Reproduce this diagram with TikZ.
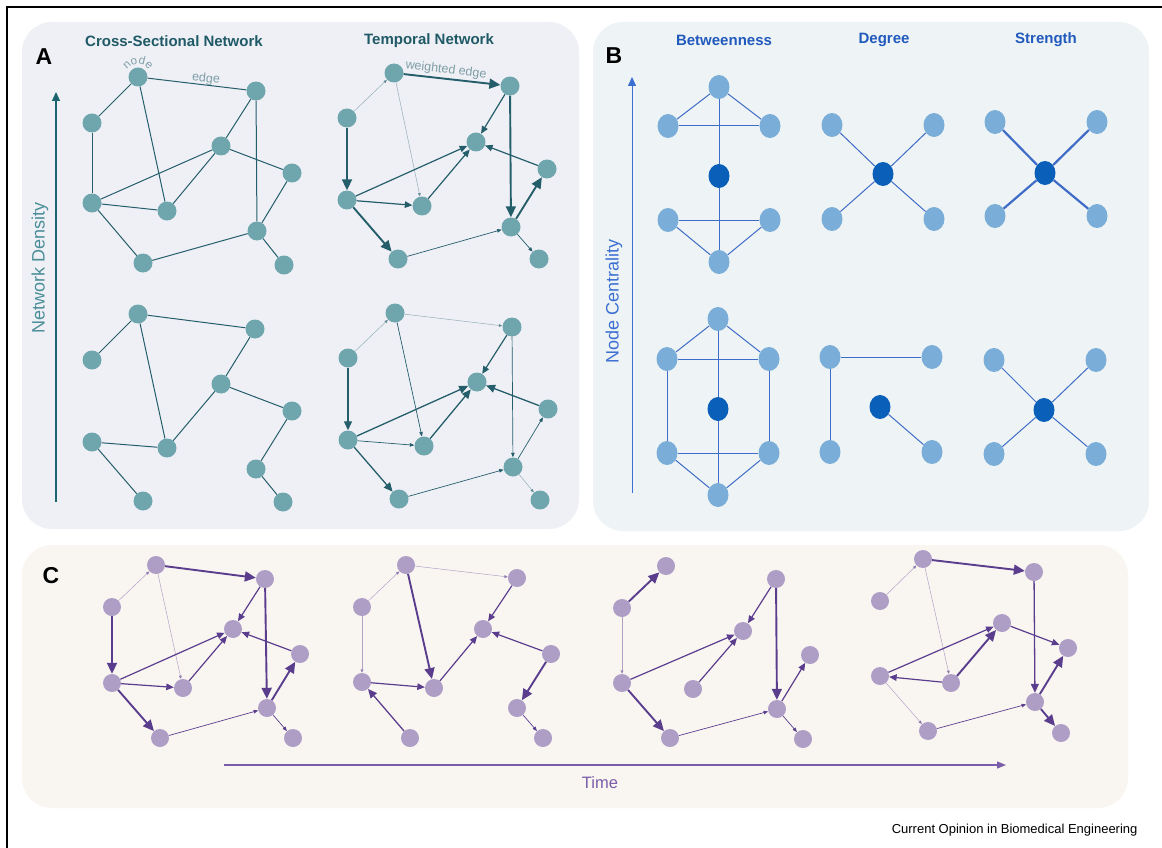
\documentclass[tikz,border=0pt]{standalone}
\usepackage{fontspec}
\setmainfont{Liberation Sans}
\usetikzlibrary{arrows.meta,decorations.text,shapes.geometric}
\definecolor{panelA}{HTML}{EFF0F6}
\definecolor{panelB}{HTML}{EEF4F5}
\definecolor{panelC}{HTML}{F9F6F2}
\definecolor{aNode}{HTML}{6FA6AD}
\definecolor{aEdge}{HTML}{245E6B}
\definecolor{aTitle}{HTML}{1F5A66}
\definecolor{aLbl}{HTML}{7E9EA6}
\definecolor{aAxis}{HTML}{4A8E98}
\definecolor{aAxisLine}{HTML}{1E6470}
\definecolor{bNode}{HTML}{7AAED8}
\definecolor{bDark}{HTML}{0A5FB8}
\definecolor{bEdge}{HTML}{3F6CC6}
\definecolor{bTitle}{HTML}{2159BD}
\definecolor{bAxis}{HTML}{3C6FD2}
\definecolor{cNode}{HTML}{AE9EC6}
\definecolor{cEdge}{HTML}{5B3D8E}
\definecolor{cAxis}{HTML}{7A5CA8}
\begin{document}
\begin{tikzpicture}[x=1pt,y=-1pt,
 aN/.style={circle,fill=aNode,minimum size=19pt,inner sep=0pt},
 cN/.style={circle,fill=cNode,minimum size=18pt,inner sep=0pt},
 bN/.style={ellipse,fill=bNode,minimum width=21pt,minimum height=24pt,inner sep=0pt},
 bC/.style={bN,fill=bDark},
 plainLine/.style={line width=1pt},
 bLine/.style={line width=1pt},
 bThick/.style={line width=2.2pt},
 wBig/.style={line width=1.9pt,-{Triangle[length=11pt,width=10pt]}},
 wMedBig/.style={line width=1.3pt,-{Triangle[length=9pt,width=8pt]}},
 wMed/.style={line width=1.2pt,-{Triangle[length=7.5pt,width=6.5pt]}},
 wThin/.style={line width=0.7pt,-{Triangle[length=4.5pt,width=3.5pt]}},
 wFaint/.style={line width=0.5pt,draw opacity=0.45,fill opacity=0.6,-{Triangle[length=3.5pt,width=3pt]}},
 title/.style={font=\fontsize{15}{18}\selectfont\bfseries},
 panelLetter/.style={font=\fontsize{23}{26}\selectfont\bfseries,text=black},
 axisText/.style={font=\fontsize{18}{20}\selectfont,rotate=90},
 axisArrow/.style={line width=1.1pt,-{Triangle[length=9pt,width=8pt]}},
 smallLbl/.style={font=\fontsize{12.5}{14}\selectfont,text=aLbl}
]
\useasboundingbox (0,0) rectangle (1162,848);
\fill[white] (0,0) rectangle (1162,848);
\draw[line width=2pt] (7,848) -- (7,7) -- (1162,7);

% panels
\fill[panelA,rounded corners=30pt] (22,22) rectangle (579,529);
\fill[panelB,rounded corners=30pt] (593,22) rectangle (1149,531);
\fill[panelC,rounded corners=30pt] (22,545) rectangle (1128,808);

% ---------------- Panel A ----------------
\node[panelLetter] (LA) at (44,57) {A};
\node[title,text=aTitle] (TA1) at (174,41) {Cross-Sectional Network};
\node[title,text=aTitle] (TA2) at (429,41) {Temporal Network};
\coordinate (axA0) at (56,502);
\coordinate (axA1) at (56,92);
\draw[axisArrow,aAxisLine] (axA0) -- (axA1);
\node[axisText,text=aAxis] (axAt) at (40,268) {Network Density};

\begin{scope}[color=aEdge]
% cross-sectional top
\node[aN] (n1) at (138,77) {};
\node[aN] (n2) at (256,91) {};
\node[aN] (n3) at (92,123) {};
\node[aN] (n4) at (221,146) {};
\node[aN] (n5) at (292,173) {};
\node[aN] (n6) at (92,203) {};
\node[aN] (n7) at (167,211) {};
\node[aN] (n8) at (257,231) {};
\node[aN] (n9) at (143,263) {};
\node[aN] (n10) at (284,265) {};
\draw[plainLine] (n1) -- (n3);
\draw[plainLine] (n1) -- (n2);
\draw[plainLine] (n1) -- (n7);
\draw[plainLine] (n3) -- (n6);
\draw[plainLine] (n6) -- (n4);
\draw[plainLine] (n6) -- (n7);
\draw[plainLine] (n7) -- (n4);
\draw[plainLine] (n2) -- (n4);
\draw[plainLine] (n2) -- (n8);
\draw[plainLine] (n4) -- (n5);
\draw[plainLine] (n5) -- (n8);
\draw[plainLine] (n6) -- (n9);
\draw[plainLine] (n9) -- (n8);
\draw[plainLine] (n8) -- (n10);

% temporal top
\node[aN] (t1) at (394,73) {};
\node[aN] (t2) at (510,86) {};
\node[aN] (t3) at (347,118) {};
\node[aN] (t4) at (476,142) {};
\node[aN] (t5) at (547,169) {};
\node[aN] (t6) at (347,200) {};
\node[aN] (t7) at (422,206) {};
\node[aN] (t8) at (511,227) {};
\node[aN] (t9) at (398,259) {};
\node[aN] (t10) at (539,259) {};
\draw[wFaint] (t3) -- (t1);
\draw[wBig] (t1) -- (t2);
\draw[wFaint] (t1) -- (t7);
\draw[wMed] (t2) -- (t4);
\draw[wBig] (t2) -- (t8);
\draw[wBig] (t3) -- (t6);
\draw[wMed] (t6) -- (t4);
\draw[wMed] (t6) -- (t7);
\draw[wMed] (t7) -- (t4);
\draw[wMed] (t5) -- (t4);
\draw[wBig] (t8) -- (t5);
\draw[wBig] (t6) -- (t9);
\draw[wThin] (t9) -- (t8);
\draw[wThin] (t8) -- (t10);

% cross-sectional bottom
\node[aN] (b1) at (138,314) {};
\node[aN] (b2) at (255,329) {};
\node[aN] (b3) at (92,360) {};
\node[aN] (b4) at (221,384) {};
\node[aN] (b5) at (292,411) {};
\node[aN] (b6) at (92,442) {};
\node[aN] (b7) at (167,448) {};
\node[aN] (b8) at (256,469) {};
\node[aN] (b9) at (143,501) {};
\node[aN] (b10) at (283,502) {};
\draw[plainLine] (b1) -- (b3);
\draw[plainLine] (b1) -- (b2);
\draw[plainLine] (b1) -- (b7);
\draw[plainLine] (b2) -- (b4);
\draw[plainLine] (b4) -- (b7);
\draw[plainLine] (b4) -- (b5);
\draw[plainLine] (b5) -- (b8);
\draw[plainLine] (b8) -- (b10);
\draw[plainLine] (b6) -- (b7);
\draw[plainLine] (b6) -- (b9);

% temporal bottom
\node[aN] (u1) at (395,313) {};
\node[aN] (u2) at (512,327) {};
\node[aN] (u3) at (348,358) {};
\node[aN] (u4) at (477,382) {};
\node[aN] (u5) at (548,409) {};
\node[aN] (u6) at (348,440) {};
\node[aN] (u7) at (424,446) {};
\node[aN] (u8) at (513,467) {};
\node[aN] (u9) at (399,499) {};
\node[aN] (u10) at (540,500) {};
\draw[wFaint] (u3) -- (u1);
\draw[wFaint] (u1) -- (u2);
\draw[wThin] (u1) -- (u7);
\draw[wMed] (u2) -- (u4);
\draw[wThin] (u2) -- (u8);
\draw[wMedBig] (u3) -- (u6);
\draw[wMedBig] (u6) -- (u4);
\draw[wThin] (u6) -- (u7);
\draw[wMedBig] (u7) -- (u4);
\draw[wMedBig] (u5) -- (u4);
\draw[wThin] (u8) -- (u5);
\draw[wMedBig] (u6) -- (u9);
\draw[wThin] (u9) -- (u8);
\draw[wFaint] (u8) -- (u10);
\end{scope}

% labels on A
\path[decorate,decoration={text along path,text align=center,
  text={|\fontsize{11.5}{12}\selectfont\color{aLbl}|node}}]
  (n1) ++(-165:13) arc[start angle=-165,end angle=-15,radius=13];
\node[smallLbl,rotate=-6] (lblEdge) at (206,79) {edge};
\node[smallLbl,rotate=-7] (lblW) at (446,70) {weighted edge};

% ---------------- Panel B ----------------
\node[panelLetter] (LB) at (614,56) {B};
\node[title,text=bTitle] (TB1) at (724,40) {Betweenness};
\node[title,text=bTitle] (TB2) at (884,40) {Degree};
\node[title,text=bTitle] (TB3) at (1046,40) {Strength};
\coordinate (axB0) at (632,493);
\coordinate (axB1) at (632,77);
\draw[axisArrow,bAxis,line width=1pt] (axB0) -- (axB1);
\node[axisText,text=bAxis] (axBt) at (614,301) {Node Centrality};

\begin{scope}[color=bEdge]
% betweenness top
\node[bN] (bt1) at (719,87) {};
\node[bN] (bt2) at (668,126) {};
\node[bN] (bt3) at (770,126) {};
\node[bC] (bt4) at (719,176) {};
\node[bN] (bt5) at (668,220) {};
\node[bN] (bt6) at (770,220) {};
\node[bN] (bt7) at (719,262) {};
\draw[bLine] (bt1) -- (bt2);
\draw[bLine] (bt1) -- (bt3);
\draw[bLine] (bt2) -- (bt3);
\draw[bLine] (bt1) -- (bt4);
\draw[bLine] (bt4) -- (bt7);
\draw[bLine] (bt5) -- (bt6);
\draw[bLine] (bt5) -- (bt7);
\draw[bLine] (bt6) -- (bt7);
% degree top
\node[bN] (dt1) at (832,125) {};
\node[bN] (dt2) at (934,125) {};
\node[bC] (dt0) at (883,174) {};
\node[bN] (dt3) at (832,219) {};
\node[bN] (dt4) at (934,219) {};
\draw[bLine] (dt0) -- (dt1);
\draw[bLine] (dt0) -- (dt2);
\draw[bLine] (dt0) -- (dt3);
\draw[bLine] (dt0) -- (dt4);
% strength top
\node[bN] (st1) at (995,122) {};
\node[bN] (st2) at (1097,122) {};
\node[bC] (st0) at (1045,173) {};
\node[bN] (st3) at (995,216) {};
\node[bN] (st4) at (1097,216) {};
\draw[bThick] (st0) -- (st1);
\draw[bThick] (st0) -- (st2);
\draw[bThick] (st0) -- (st3);
\draw[bThick] (st0) -- (st4);
% betweenness bottom
\node[bN] (bb1) at (718,319) {};
\node[bN] (bb2) at (667,359) {};
\node[bN] (bb3) at (769,359) {};
\node[bC] (bb4) at (718,409) {};
\node[bN] (bb5) at (667,453) {};
\node[bN] (bb6) at (769,453) {};
\node[bN] (bb7) at (718,495) {};
\draw[bLine] (bb1) -- (bb2);
\draw[bLine] (bb1) -- (bb3);
\draw[bLine] (bb2) -- (bb3);
\draw[bLine] (bb1) -- (bb4);
\draw[bLine] (bb2) -- (bb5);
\draw[bLine] (bb3) -- (bb6);
\draw[bLine] (bb4) -- (bb7);
\draw[bLine] (bb5) -- (bb6);
\draw[bLine] (bb5) -- (bb7);
\draw[bLine] (bb6) -- (bb7);
% degree bottom
\node[bN] (db1) at (830,357) {};
\node[bN] (db2) at (932,357) {};
\node[bC] (db0) at (880,407) {};
\node[bN] (db3) at (830,452) {};
\node[bN] (db4) at (932,452) {};
\draw[bLine] (db1) -- (db2);
\draw[bLine] (db1) -- (db3);
\draw[bLine] (db0) -- (db4);
% strength bottom
\node[bN] (sb1) at (994,360) {};
\node[bN] (sb2) at (1096,360) {};
\node[bC] (sb0) at (1044,410) {};
\node[bN] (sb3) at (994,454) {};
\node[bN] (sb4) at (1096,454) {};
\draw[bLine] (sb0) -- (sb1);
\draw[bLine] (sb0) -- (sb2);
\draw[bLine] (sb0) -- (sb3);
\draw[bLine] (sb0) -- (sb4);
\end{scope}

% ---------------- Panel C ----------------
\node[panelLetter] (LC) at (51,576) {C};
\coordinate (tm0) at (224,765);
\coordinate (tm1) at (1006,765);
\draw[cAxis,line width=1.1pt,-{Triangle[length=9pt,width=7pt]}] (tm0) -- (tm1);
\node[font=\fontsize{16.5}{18}\selectfont,text=cAxis] (tmL) at (600,783) {Time};

\begin{scope}[color=cEdge]
% graph 1
\node[cN] (p1) at (156,565) {};
\node[cN] (p2) at (265,579) {};
\node[cN] (p3) at (112,607) {};
\node[cN] (p4) at (233,629) {};
\node[cN] (p5) at (300,654) {};
\node[cN] (p6) at (112,683) {};
\node[cN] (p7) at (183,688) {};
\node[cN] (p8) at (267,708) {};
\node[cN] (p9) at (160,738) {};
\node[cN] (p10) at (293,738) {};
\draw[wFaint] (p3) -- (p1);
\draw[wBig] (p1) -- (p2);
\draw[wFaint] (p1) -- (p7);
\draw[wMed] (p2) -- (p4);
\draw[wBig] (p2) -- (p8);
\draw[wBig] (p3) -- (p6);
\draw[wMed] (p6) -- (p4);
\draw[wMed] (p6) -- (p7);
\draw[wMed] (p7) -- (p4);
\draw[wMed] (p5) -- (p4);
\draw[wBig] (p8) -- (p5);
\draw[wBig] (p6) -- (p9);
\draw[wThin] (p9) -- (p8);
\draw[wThin] (p8) -- (p10);
% graph 2
\node[cN] (q1) at (406,565) {};
\node[cN] (q2) at (517,578) {};
\node[cN] (q3) at (362,607) {};
\node[cN] (q4) at (483,629) {};
\node[cN] (q5) at (551,654) {};
\node[cN] (q6) at (362,682) {};
\node[cN] (q7) at (434,688) {};
\node[cN] (q8) at (517,708) {};
\node[cN] (q9) at (410,738) {};
\node[cN] (q10) at (543,738) {};
\draw[wFaint] (q3) -- (q1);
\draw[wFaint] (q1) -- (q2);
\draw[wBig] (q1) -- (q7);
\draw[wMed] (q2) -- (q4);
\draw[wFaint] (q3) -- (q6);
\draw[wMed] (q6) -- (q7);
\draw[wMed] (q7) -- (q4);
\draw[wMed] (q5) -- (q4);
\draw[wBig] (q5) -- (q8);
\draw[wThin] (q8) -- (q10);
\draw[wMedBig] (q9) -- (q6);
% graph 3
\node[cN] (r1) at (666,566) {};
\node[cN] (r2) at (776,579) {};
\node[cN] (r3) at (622,608) {};
\node[cN] (r4) at (743,631) {};
\node[cN] (r5) at (810,655) {};
\node[cN] (r6) at (622,683) {};
\node[cN] (r7) at (693,689) {};
\node[cN] (r8) at (777,709) {};
\node[cN] (r9) at (670,738) {};
\node[cN] (r10) at (803,739) {};
\draw[wBig] (r3) -- (r1);
\draw[wFaint] (r3) -- (r6);
\draw[wMed] (r6) -- (r4);
\draw[wMed] (r7) -- (r4);
\draw[wMed] (r2) -- (r4);
\draw[wBig] (r2) -- (r8);
\draw[wMed] (r8) -- (r5);
\draw[wBig] (r6) -- (r9);
\draw[wThin] (r9) -- (r8);
\draw[wThin] (r8) -- (r10);
% graph 4
\node[cN] (s1) at (923,559) {};
\node[cN] (s2) at (1034,572) {};
\node[cN] (s3) at (880,601) {};
\node[cN] (s4) at (1002,623) {};
\node[cN] (s5) at (1068,648) {};
\node[cN] (s6) at (880,676) {};
\node[cN] (s7) at (951,683) {};
\node[cN] (s8) at (1035,702) {};
\node[cN] (s9) at (928,731) {};
\node[cN] (s10) at (1061,733) {};
\draw[wFaint] (s3) -- (s1);
\draw[wBig] (s1) -- (s2);
\draw[wFaint] (s1) -- (s7);
\draw[wMedBig] (s2) -- (s8);
\draw[wMed] (s6) -- (s4);
\draw[wMed] (s7) -- (s6);
\draw[wBig] (s7) -- (s4);
\draw[wMed] (s4) -- (s5);
\draw[wBig] (s8) -- (s5);
\draw[wFaint] (s6) -- (s9);
\draw[wThin] (s9) -- (s8);
\draw[wBig] (s8) -- (s10);
\end{scope}

\node[font=\fontsize{13}{15}\selectfont,anchor=east] (credit) at (1141,830) {Current Opinion in Biomedical Engineering};
\end{tikzpicture}
\end{document}
